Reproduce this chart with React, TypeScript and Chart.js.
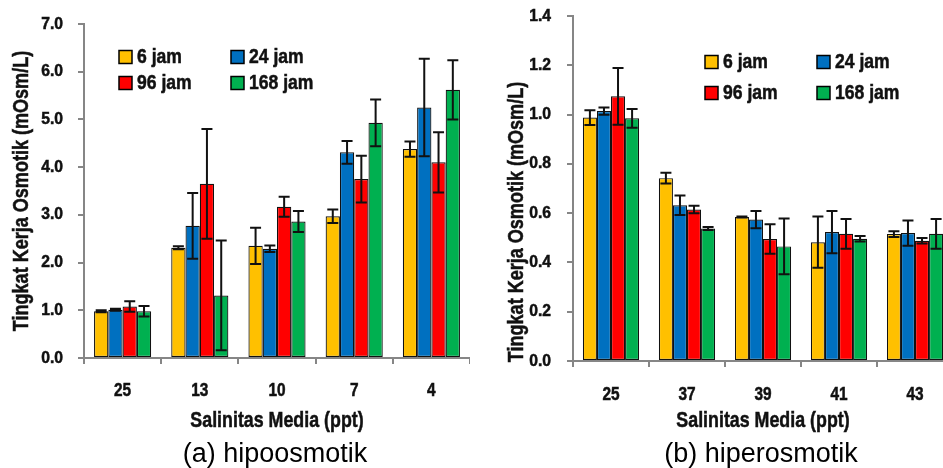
import React, { useEffect, useRef } from "react";
import { Chart, registerables } from "chart.js";

Chart.register(...registerables);

// ---------- data ----------
const seriesLabels = ["6 jam", "24 jam", "96 jam", "168 jam"];
const seriesColors = ["#FFC000", "#0070C0", "#FF0000", "#00B050"];

// (a) hipoosmotik
const categoriesA = ["25", "13", "10", "7", "4"];
const jam6A = [0.98, 2.31, 2.35, 2.97, 4.38];
const jam24A = [1.01, 2.77, 2.29, 4.31, 5.25];
const jam96A = [1.08, 3.65, 3.17, 3.75, 4.1];
const jam168A = [0.98, 1.31, 2.86, 4.93, 5.62];
const err6A = [0.02, 0.03, 0.38, 0.14, 0.16];
const err24A = [0.02, 0.69, 0.07, 0.24, 1.02];
const err96A = [0.11, 1.15, 0.21, 0.49, 0.63];
const err168A = [0.11, 1.15, 0.22, 0.49, 0.62];
const yTicksA = { min: 0, max: 7, step: 1 };

// (b) hiperosmotik
const categoriesB = ["25", "37", "39", "41", "43"];
const jam6B = [0.988, 0.742, 0.584, 0.482, 0.515];
const jam24B = [1.014, 0.632, 0.574, 0.523, 0.519];
const jam96B = [1.074, 0.615, 0.495, 0.516, 0.488];
const jam168B = [0.985, 0.538, 0.465, 0.496, 0.516];
const err6B = [0.03, 0.022, 0.002, 0.104, 0.012];
const err24B = [0.015, 0.04, 0.035, 0.086, 0.051];
const err96B = [0.115, 0.015, 0.06, 0.06, 0.011];
const err168B = [0.038, 0.006, 0.113, 0.011, 0.06];
const yTicksB = { min: 0, max: 1.4, step: 0.2 };

const xTitle = "Salinitas Media (ppt)";
const yTitle = "Tingkat Kerja Osmotik (mOsm/L)";
const captionA = "(a) hipoosmotik";
const captionB = "(b) hiperosmotik";

const SANS = "'Liberation Sans', Arial, sans-serif";
const AXIS_GREY = "#868686";
const TEXT = "#111";

// bold text compressed horizontally (mimics Arial Narrow Bold)
function narrowText(ctx: any, text: string, x: number, y: number, align: string, size: number, sx: number, rotate = 0) {
  ctx.save();
  ctx.translate(x, y);
  if (rotate) ctx.rotate(rotate);
  ctx.scale(sx, 1);
  ctx.font = `bold ${size}px ${SANS}`;
  ctx.textAlign = align;
  ctx.textBaseline = "middle";
  ctx.fillStyle = TEXT;
  ctx.strokeStyle = TEXT;
  ctx.lineWidth = 0.5;
  ctx.fillText(text, 0, 0);
  ctx.strokeText(text, 0, 0);
  ctx.restore();
}

const errorBarPlugin = {
  id: "errorBars",
  afterDatasetsDraw(chart: any) {
    const ctx = chart.ctx;
    const ys = chart.scales.y;
    chart.data.datasets.forEach((ds: any, i: number) => {
      const meta = chart.getDatasetMeta(i);
      meta.data.forEach((bar: any, j: number) => {
        const v = ds.data[j];
        const e = ds.errors[j];
        const x = bar.x;
        const yt = ys.getPixelForValue(v + e);
        const yb = ys.getPixelForValue(v - e);
        ctx.save();
        ctx.strokeStyle = "#111";
        ctx.lineWidth = 2;
        ctx.beginPath();
        ctx.moveTo(x, yt);
        ctx.lineTo(x, yb);
        ctx.moveTo(x - 5.5, yt);
        ctx.lineTo(x + 5.5, yt);
        ctx.moveTo(x - 5.5, yb);
        ctx.lineTo(x + 5.5, yb);
        ctx.stroke();
        ctx.restore();
      });
    });
  },
};

const decorPlugin = {
  id: "decor",
  afterDraw(chart: any, _args: any, opts: any) {
    const ctx = chart.ctx;
    const area = chart.chartArea;
    const xs = chart.scales.x;
    const ys = chart.scales.y;
    // y tick labels
    ys.ticks.forEach((t: any) => {
      const py = ys.getPixelForValue(t.value);
      narrowText(ctx, Number(t.value).toFixed(1), area.left - 6 - opts.tickPad, py, "right", 16.5, 0.95);
    });
    // x tick labels
    chart.data.labels.forEach((lab: string, i: number) => {
      narrowText(ctx, lab, xs.getPixelForValue(i), opts.xLabelY, "center", 17.5, 0.88);
    });
    // y title
    narrowText(ctx, yTitle, opts.yTitleX, opts.yTitleY, "center", 22, 0.82, -Math.PI / 2);
    // x title
    narrowText(ctx, xTitle, (area.left + area.right) / 2, opts.xTitleY, "center", 22, 0.81);
    // legend
    chart.data.datasets.forEach((ds: any, i: number) => {
      const col = i % 2;
      const row = Math.floor(i / 2);
      const bx = opts.legendX[col];
      const cy = opts.legendY[row];
      ctx.save();
      ctx.fillStyle = ds.backgroundColor;
      ctx.fillRect(bx, cy - 6.5, 13, 13);
      ctx.strokeStyle = "#000";
      ctx.lineWidth = 1.5;
      ctx.strokeRect(bx, cy - 6.5, 13, 13);
      ctx.restore();
      narrowText(ctx, ds.label, bx + 18, cy + 1, "left", 19.5, 0.9);
    });
  },
};

type PanelProps = {
  categories: string[];
  values: number[][];
  errors: number[][];
  yTicks: { min: number; max: number; step: number };
  width: number;
  height: number;
  area: { left: number; top: number; bottom: number };
  decor: any;
};

function Panel(p: PanelProps) {
  const ref = useRef<HTMLCanvasElement | null>(null);
  useEffect(() => {
    if (!ref.current) return;
    const chart = new Chart(ref.current, {
      type: "bar",
      data: {
        labels: p.categories,
        datasets: p.values.map((vals, i) => ({
          label: seriesLabels[i],
          data: vals,
          errors: p.errors[i],
          backgroundColor: seriesColors[i],
          borderColor: "#111",
          borderWidth: 1.2,
          borderSkipped: false,
          categoryPercentage: 0.74,
          barPercentage: 1.0,
        })) as any,
      },
      options: {
        responsive: false,
        animation: false,
        devicePixelRatio: 1,
        layout: { padding: { top: p.area.top, left: 0, right: 0, bottom: 0 } },
        plugins: {
          legend: { display: false },
          tooltip: { enabled: false },
          decor: p.decor,
        } as any,
        scales: {
          x: {
            grid: {
              display: true,
              drawOnChartArea: false,
              drawTicks: true,
              tickLength: 6,
              color: AXIS_GREY,
              lineWidth: 2,
              offset: true,
            },
            border: { display: true, color: AXIS_GREY, width: 2 },
            ticks: { display: false },
            afterFit(scale: any) {
              scale.height = p.height - p.area.bottom;
            },
          },
          y: {
            min: p.yTicks.min,
            max: p.yTicks.max,
            grid: {
              display: true,
              drawOnChartArea: false,
              drawTicks: true,
              tickLength: 6,
              color: AXIS_GREY,
              lineWidth: 2,
            },
            border: { display: true, color: AXIS_GREY, width: 2 },
            ticks: { display: false, stepSize: p.yTicks.step },
            afterFit(scale: any) {
              scale.width = p.area.left;
            },
          },
        },
      } as any,
      plugins: [errorBarPlugin, decorPlugin],
    });
    return () => chart.destroy();
  }, []);
  return <canvas ref={ref} width={p.width} height={p.height} style={{ width: p.width, height: p.height, display: "block" }} />;
}

const captionStyle: React.CSSProperties = {
  position: "absolute",
  top: 437,
  width: 320,
  height: 32,
  lineHeight: "32px",
  textAlign: "center",
  fontFamily: SANS,
  fontSize: 27,
  color: "#000",
};

export default function App() {
  return (
    <div style={{ position: "fixed", left: 0, top: 0, width: 943, height: 468, overflow: "hidden", background: "#fff" }}>
      <div style={{ position: "absolute", left: 0, top: 0 }}>
        <Panel
          categories={categoriesA}
          values={[jam6A, jam24A, jam96A, jam168A]}
          errors={[err6A, err24A, err96A, err168A]}
          yTicks={yTicksA}
          width={470}
          height={468}
          area={{ left: 84, top: 24, bottom: 358 }}
          decor={{ tickPad: 15, xLabelY: 391, yTitleX: 22, yTitleY: 191, xTitleY: 421, legendX: [119, 231], legendY: [57, 83] }}
        />
      </div>
      <div style={{ position: "absolute", left: 470, top: 0 }}>
        <Panel
          categories={categoriesB}
          values={[jam6B, jam24B, jam96B, jam168B]}
          errors={[err6B, err24B, err96B, err168B]}
          yTicks={yTicksB}
          width={483}
          height={468}
          area={{ left: 103, top: 16, bottom: 361 }}
          decor={{ tickPad: 16, xLabelY: 395, yTitleX: 47, yTitleY: 222, xTitleY: 421, legendX: [235, 347], legendY: [62, 93] }}
        />
      </div>
      <div style={{ ...captionStyle, left: 275 - 160 }}>{captionA}</div>
      <div style={{ ...captionStyle, left: 761 - 160 }}>{captionB}</div>
    </div>
  );
}
